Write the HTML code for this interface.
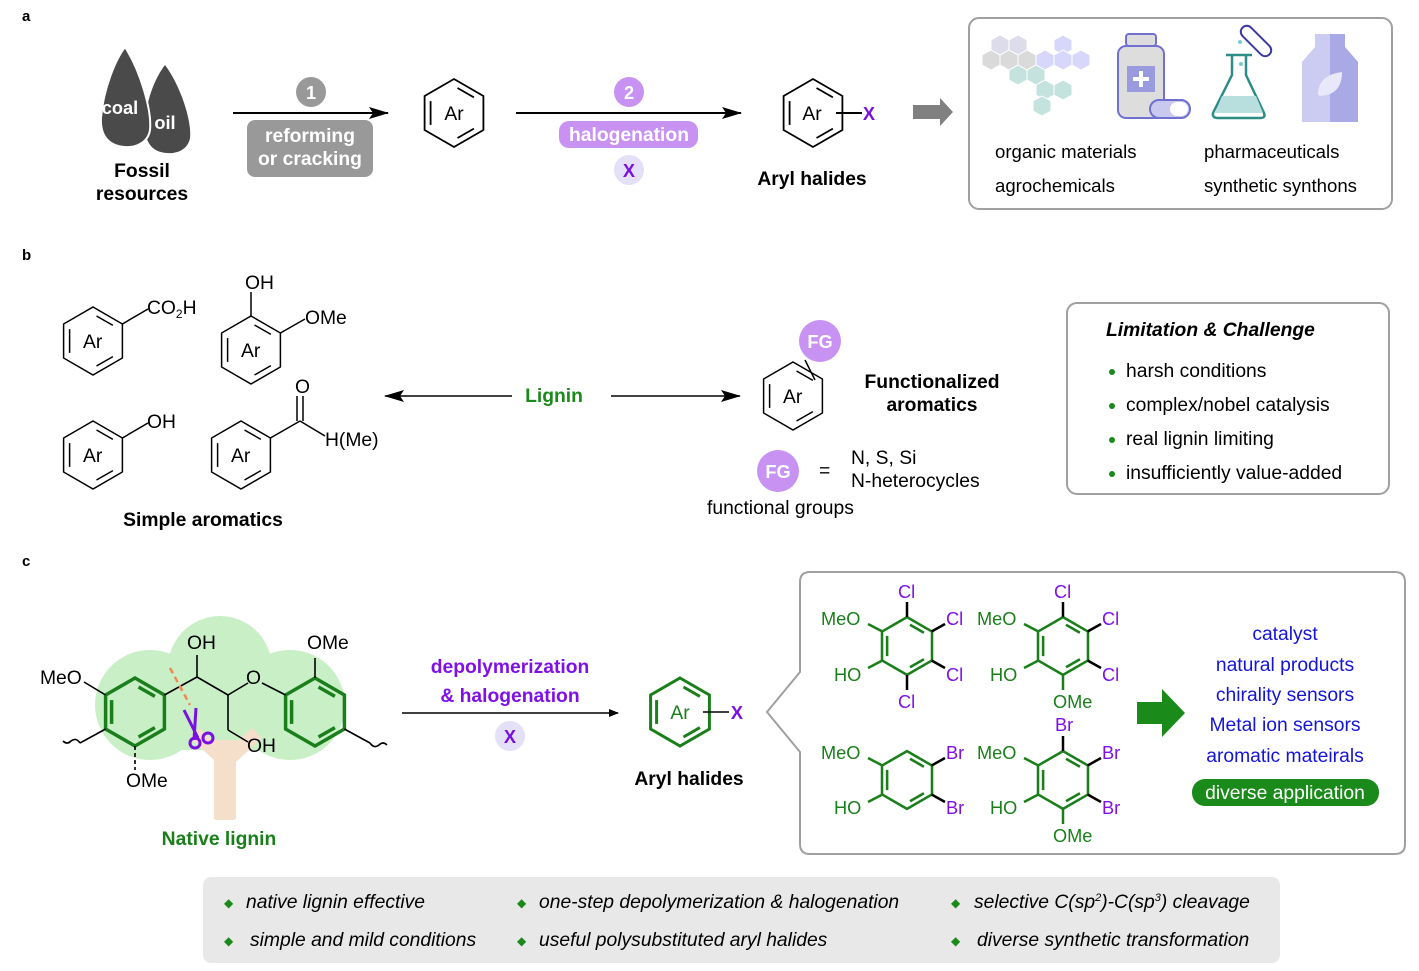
<!DOCTYPE html>
<html><head><meta charset="utf-8"><style>
html,body{margin:0;padding:0;background:#fff;}
svg{display:block;font-family:"Liberation Sans",Arial,sans-serif;}
</style></head><body>
<svg width="1419" height="971" viewBox="0 0 1419 971" xmlns="http://www.w3.org/2000/svg">
<defs>
<g id="ring" fill="none">
<polygon points="0,-34 29.4,-17 29.4,17 0,34 -29.4,17 -29.4,-17"/>
<line x1="-23.4" y1="-11.9" x2="-23.4" y2="11.9"/>
<line x1="3.5" y1="-25" x2="19.9" y2="-15.6"/>
<line x1="3.5" y1="25" x2="19.9" y2="15.6"/>
</g>
<marker id="ah" markerWidth="10" markerHeight="8" refX="9" refY="4" orient="auto" markerUnits="userSpaceOnUse"><path d="M0,0 L10,4 L0,8 Z" fill="#000"/></marker>
<marker id="ahs" markerWidth="20" markerHeight="12" refX="19" refY="6" orient="auto" markerUnits="userSpaceOnUse"><path d="M0,0 L20,6 L0,12 L4,6 Z" fill="#000"/></marker>
</defs>

<g font-weight="bold" font-size="15"><text x="22" y="21">a</text><text x="22" y="260">b</text><text x="22" y="566">c</text></g>

<!-- ===== Panel a ===== -->
<path d="M165,65 C180,85 192,120 190,138 C188,150 176,154 167,153 C150,152 145,140 145,125 C146,100 155,78 165,65Z" fill="#4a4a4a"/>
<path d="M125,47 C140,70 152,110 150,130 C148,143 135,148 125,147 C108,146 100,135 101,118 C103,90 115,60 125,47Z" fill="#4a4a4a" stroke="#fff" stroke-width="2"/>
<text x="120" y="114" fill="#fff" font-size="18.2" font-weight="bold" text-anchor="middle">coal</text>
<text x="165" y="129" fill="#fff" font-size="18.2" font-weight="bold" text-anchor="middle">oil</text>
<text x="142" y="177" font-size="19.3" font-weight="bold" text-anchor="middle">Fossil</text>
<text x="142" y="200" font-size="19.3" font-weight="bold" text-anchor="middle">resources</text>

<line x1="233" y1="113" x2="388" y2="113" stroke="#000" stroke-width="2" marker-end="url(#ahs)"/>
<circle cx="311" cy="92" r="15" fill="#999"/>
<text x="311" y="99" fill="#fff" font-size="18.2" font-weight="bold" text-anchor="middle">1</text>
<rect x="247" y="120" width="126" height="57" rx="8" fill="#999"/>
<text x="310" y="142" fill="#fff" font-size="19.3" font-weight="bold" text-anchor="middle">reforming</text>
<text x="310" y="165" fill="#fff" font-size="19.3" font-weight="bold" text-anchor="middle">or cracking</text>

<use href="#ring" x="454" y="113" stroke="#000" stroke-width="1.8"/>
<text x="454" y="120" font-size="19.3" text-anchor="middle">Ar</text>

<line x1="516" y1="113" x2="741" y2="113" stroke="#000" stroke-width="2" marker-end="url(#ahs)"/>
<circle cx="629" cy="92" r="15" fill="#c792f2"/>
<text x="629" y="99" fill="#fff" font-size="18.2" font-weight="bold" text-anchor="middle">2</text>
<rect x="559" y="121" width="139" height="27" rx="10" fill="#c792f2"/>
<text x="629" y="141" fill="#fff" font-size="19.3" font-weight="bold" text-anchor="middle">halogenation</text>
<circle cx="629" cy="170" r="15" fill="#e3e0f8"/>
<text x="629" y="177" fill="#7a10e0" font-size="18.2" font-weight="bold" text-anchor="middle">X</text>

<use href="#ring" x="813" y="113" stroke="#000" stroke-width="1.8"/>
<text x="812" y="120" font-size="19.3" text-anchor="middle">Ar</text>
<line x1="836" y1="113" x2="862" y2="113" stroke="#000" stroke-width="2"/>
<text x="869" y="120" fill="#7a10e0" font-size="18.2" font-weight="bold" text-anchor="middle">X</text>
<text x="812" y="185" font-size="19.3" font-weight="bold" text-anchor="middle">Aryl halides</text>

<path d="M913,105 L940,105 L940,98 L953,112 L940,126 L940,119 L913,119Z" fill="#808080"/>

<rect x="969" y="18" width="423" height="191" rx="10" fill="#fff" stroke="#a0a0a0" stroke-width="2"/>
<g stroke="#fff" stroke-width="1">
<g fill="#dcdcea"><polygon points="1000,35 1009,40 1009,50 1000,55 991,50 991,40"/><polygon points="1018,35 1027,40 1027,50 1018,55 1009,50 1009,40"/></g>
<g fill="#dadada"><polygon points="991,50 1000,55 1000,65 991,70 982,65 982,55"/><polygon points="1009,50 1018,55 1018,65 1009,70 1000,65 1000,55"/><polygon points="1027,50 1036,55 1036,65 1027,70 1018,65 1018,55"/></g>
<g fill="#d7d7fb"><polygon points="1063,35 1072,40 1072,50 1063,55 1054,50 1054,40"/><polygon points="1045,50 1054,55 1054,65 1045,70 1036,65 1036,55"/><polygon points="1063,50 1072,55 1072,65 1063,70 1054,65 1054,55"/><polygon points="1081,50 1090,55 1090,65 1081,70 1072,65 1072,55"/></g>
<g fill="#c4e3df"><polygon points="1018,65 1027,70 1027,80 1018,85 1009,80 1009,70"/><polygon points="1036,65 1045,70 1045,80 1036,85 1027,80 1027,70"/><polygon points="1045,80 1054,85 1054,95 1045,100 1036,95 1036,85"/><polygon points="1063,80 1072,85 1072,95 1063,100 1054,95 1054,85"/><polygon points="1042,96 1051,101 1051,111 1042,116 1033,111 1033,101"/></g>
</g>
<rect x="1126" y="34" width="30" height="12" rx="3" fill="#ddd" stroke="#7070d0" stroke-width="2"/>
<rect x="1118" y="46" width="46" height="72" rx="8" fill="#ddd" stroke="#7070d0" stroke-width="2"/>
<rect x="1127" y="66" width="28" height="26" fill="#9a9ade"/>
<path d="M1141,71 V87 M1133,79 H1149" stroke="#fff" stroke-width="4"/>
<rect x="1150" y="100" width="40" height="18" rx="9" fill="#c9c9ef" stroke="#7070d0" stroke-width="2"/>
<rect x="1170" y="102" width="18" height="14" rx="7" fill="#fff"/>
<path d="M1232,55 V75 L1213,113 Q1212,118 1218,118 H1260 Q1266,118 1264,113 L1246,75 V55" fill="#fff" stroke="#2c8c86" stroke-width="2.5"/>
<path d="M1222,96 H1256 L1263,113 H1215Z" fill="#b8dede"/>
<line x1="1226" y1="55" x2="1252" y2="55" stroke="#2c8c86" stroke-width="2.5"/>
<rect x="1250" y="22" width="12" height="38" rx="6" transform="rotate(-45 1256 41)" fill="#fff" stroke="#3a3aa0" stroke-width="2"/>
<circle cx="1240" cy="42" r="2" fill="#7cc"/><circle cx="1241" cy="64" r="2" fill="#7cc"/>
<path d="M1315,34 H1345 V47 L1358,62 V122 H1302 V62 L1315,47Z" fill="#ccccf2"/>
<path d="M1330,34 H1345 V47 L1358,62 V122 H1330Z" fill="#a9a9e6"/>
<path d="M1318,95 Q1318,75 1342,72 Q1342,95 1320,96Z" fill="#e8e8fa"/>
<g font-size="18.6"><text x="995" y="158">organic materials</text><text x="995" y="192">agrochemicals</text><text x="1204" y="158">pharmaceuticals</text><text x="1204" y="192">synthetic synthons</text></g>

<!-- ===== Panel b ===== -->
<g stroke="#000" stroke-width="1.5" fill="none">
<use href="#ring" x="93" y="341"/><line x1="122.4" y1="324" x2="148" y2="309"/>
<use href="#ring" x="251" y="350"/><line x1="251" y1="316" x2="251" y2="292"/><line x1="280.4" y1="333" x2="305" y2="319"/>
<use href="#ring" x="93" y="455"/><line x1="122.4" y1="438" x2="148" y2="423"/>
<use href="#ring" x="241" y="455"/><line x1="270.4" y1="438" x2="300" y2="421"/><line x1="297" y1="421" x2="297" y2="396"/><line x1="303" y1="421" x2="303" y2="396"/><line x1="300" y1="421" x2="325" y2="436"/>
<use href="#ring" x="793" y="396"/>
<line x1="805" y1="360" x2="815" y2="380"/>
</g>
<g font-size="19.3"><text x="83" y="348">Ar</text><text x="241" y="357">Ar</text><text x="83" y="462">Ar</text><text x="231" y="462">Ar</text><text x="783" y="403">Ar</text>
<text x="147" y="314">CO<tspan font-size="12" dy="4">2</tspan><tspan dy="-4">H</tspan></text>
<text x="245" y="289">OH</text><text x="305" y="324">OMe</text><text x="147" y="428">OH</text><text x="295" y="393">O</text><text x="325" y="446">H(Me)</text></g>
<text x="203" y="526" font-size="19.3" font-weight="bold" text-anchor="middle">Simple aromatics</text>
<line x1="512" y1="396" x2="385" y2="396" stroke="#000" stroke-width="1.5" marker-end="url(#ahs)"/>
<line x1="611" y1="396" x2="740" y2="396" stroke="#000" stroke-width="1.5" marker-end="url(#ahs)"/>
<text x="554" y="402" font-size="19.3" font-weight="bold" fill="#1a8a1a" text-anchor="middle">Lignin</text>
<circle cx="820" cy="341" r="21" fill="#c792f2"/><text x="820" y="348" fill="#fff" font-size="18.2" font-weight="bold" text-anchor="middle">FG</text>
<text x="932" y="388" font-size="19.3" font-weight="bold" text-anchor="middle">Functionalized</text>
<text x="932" y="411" font-size="19.3" font-weight="bold" text-anchor="middle">aromatics</text>
<circle cx="778" cy="471" r="21" fill="#c792f2"/><text x="778" y="478" fill="#fff" font-size="18.2" font-weight="bold" text-anchor="middle">FG</text>
<g font-size="19.3"><text x="819" y="477">=</text><text x="851" y="464">N, S, Si</text><text x="851" y="487">N-heterocycles</text><text x="707" y="514">functional groups</text></g>

<rect x="1067" y="303" width="322" height="191" rx="10" fill="#fff" stroke="#a0a0a0" stroke-width="2"/>
<text x="1106" y="336" font-size="19.3" font-weight="bold" font-style="italic">Limitation &amp; Challenge</text>
<g fill="#1a8a1a"><circle cx="1112" cy="372" r="3"/><circle cx="1112" cy="406" r="3"/><circle cx="1112" cy="440" r="3"/><circle cx="1112" cy="474" r="3"/></g>
<g font-size="19.3"><text x="1126" y="377">harsh conditions</text><text x="1126" y="411">complex/nobel catalysis</text><text x="1126" y="445">real lignin limiting</text><text x="1126" y="479">insufficiently value-added</text></g>

<!-- ===== Panel c ===== -->
<g fill="#c9efc6"><circle cx="220" cy="668" r="52"/><circle cx="150" cy="705" r="55"/><circle cx="290" cy="705" r="55"/><rect x="150" y="680" width="140" height="70"/></g>
<path d="M214,818 V760 L190,738 L200,728 L214,742 V740 H236 V742 L252,728 L262,738 L236,762 V818 Q236,820 232,820 H218 Q214,820 214,818Z" fill="#f5dfca"/>
<g stroke-width="3.5" stroke="#1a7f1a"><use href="#ring" x="135" y="712"/><use href="#ring" x="315" y="712"/></g>
<g stroke="#000" stroke-width="1.6" fill="none">
<line x1="105.6" y1="695" x2="84" y2="682"/>
<line x1="105.6" y1="729" x2="80" y2="743"/>
<path d="M80,743 q-4,-6 -9,-2 q-4,4 -8,0" />
<line x1="135" y1="746" x2="135" y2="770" stroke-dasharray="4,3"/>
<line x1="164.4" y1="695" x2="197" y2="677"/><line x1="197" y1="677" x2="197" y2="655"/>
<line x1="197" y1="677" x2="228" y2="695"/><line x1="228" y1="695" x2="248" y2="683"/>
<line x1="262" y1="683" x2="285.6" y2="695"/>
<line x1="228" y1="695" x2="228" y2="730"/><line x1="228" y1="730" x2="248" y2="742"/>
<line x1="315" y1="678" x2="315" y2="658"/>
<line x1="344.4" y1="729" x2="370" y2="743"/>
<path d="M370,743 q4,6 9,2 q4,-4 8,0"/>
</g>
<line x1="170" y1="668" x2="190" y2="705" stroke="#f08a50" stroke-width="2.5" stroke-dasharray="6,4"/>
<g stroke="#7a10e0" stroke-width="3" fill="none"><path d="M184,710 L198,738 M196,708 L194,740"/><circle cx="195" cy="743" r="5"/><circle cx="208" cy="738" r="5"/></g>
<g font-size="19.3"><text x="40" y="684">MeO</text><text x="126" y="787">OMe</text><text x="187" y="649">OH</text><text x="246" y="684">O</text><text x="247" y="752">OH</text><text x="307" y="649">OMe</text></g>
<text x="219" y="845" font-size="19.3" font-weight="bold" fill="#1a7f1a" text-anchor="middle">Native lignin</text>

<text x="510" y="673" font-size="19.3" font-weight="bold" fill="#8010e8" text-anchor="middle">depolymerization</text>
<text x="510" y="702" font-size="19.3" font-weight="bold" fill="#8010e8" text-anchor="middle">&amp; halogenation</text>
<line x1="402" y1="713" x2="618" y2="713" stroke="#000" stroke-width="1.5" marker-end="url(#ah)"/>
<circle cx="510" cy="736" r="15" fill="#e3e0f8"/><text x="510" y="743" fill="#7a10e0" font-size="18.2" font-weight="bold" text-anchor="middle">X</text>
<use href="#ring" x="680" y="712" stroke="#1a7f1a" stroke-width="3"/>
<text x="680" y="719" font-size="19.3" fill="#1a7f1a" text-anchor="middle">Ar</text>
<line x1="703" y1="712" x2="729" y2="712" stroke="#000" stroke-width="1.6"/>
<text x="737" y="719" font-size="18.2" font-weight="bold" fill="#7a10e0" text-anchor="middle">X</text>
<text x="689" y="785" font-size="19.3" font-weight="bold" text-anchor="middle">Aryl halides</text>

<path d="M800,672 V582 Q800,572 810,572 H1395 Q1405,572 1405,582 V844 Q1405,854 1395,854 H810 Q800,854 800,844 V752 L767,712 Z" fill="#fff" stroke="#a0a0a0" stroke-width="2"/>

<g stroke="#1a7f1a" stroke-width="3"><use href="#ring" transform="translate(907,646) scale(0.85)"/><use href="#ring" transform="translate(1063,646) scale(0.85)"/><use href="#ring" transform="translate(907,780) scale(0.85)"/><use href="#ring" transform="translate(1063,780) scale(0.85)"/></g>
<g stroke-width="2.5">
<g stroke="#000"><line x1="907" y1="617" x2="907" y2="602"/><line x1="931.6" y1="631.5" x2="945" y2="624"/><line x1="931.6" y1="660.5" x2="945" y2="668"/><line x1="907" y1="675" x2="907" y2="690"/>
<line x1="1063" y1="617" x2="1063" y2="602"/><line x1="1087.6" y1="631.5" x2="1101" y2="624"/><line x1="1087.6" y1="660.5" x2="1101" y2="668"/>
<line x1="931.6" y1="765.5" x2="945" y2="758"/><line x1="931.6" y1="794.5" x2="945" y2="802"/>
<line x1="1063" y1="751" x2="1063" y2="736"/><line x1="1087.6" y1="765.5" x2="1101" y2="758"/><line x1="1087.6" y1="794.5" x2="1101" y2="802"/></g>
<g stroke="#1a7f1a"><line x1="882.4" y1="631.5" x2="868" y2="624"/><line x1="882.4" y1="660.5" x2="868" y2="668"/>
<line x1="1038.4" y1="631.5" x2="1024" y2="624"/><line x1="1038.4" y1="660.5" x2="1024" y2="668"/><line x1="1063" y1="675" x2="1063" y2="690"/>
<line x1="882.4" y1="765.5" x2="868" y2="758"/><line x1="882.4" y1="794.5" x2="868" y2="802"/>
<line x1="1038.4" y1="765.5" x2="1024" y2="758"/><line x1="1038.4" y1="794.5" x2="1024" y2="802"/><line x1="1063" y1="809" x2="1063" y2="824"/></g>
</g>
<g font-size="18.2" fill="#8010e8"><text x="898" y="598">Cl</text><text x="946" y="625">Cl</text><text x="946" y="681">Cl</text><text x="898" y="708">Cl</text>
<text x="1054" y="598">Cl</text><text x="1102" y="625">Cl</text><text x="1102" y="681">Cl</text>
<text x="946" y="759">Br</text><text x="946" y="814">Br</text>
<text x="1055" y="731">Br</text><text x="1102" y="759">Br</text><text x="1102" y="814">Br</text></g>
<g font-size="18.2" fill="#1a7f1a"><text x="821" y="625">MeO</text><text x="834" y="681">HO</text><text x="977" y="625">MeO</text><text x="990" y="681">HO</text><text x="1053" y="708">OMe</text>
<text x="821" y="759">MeO</text><text x="834" y="814">HO</text><text x="977" y="759">MeO</text><text x="990" y="814">HO</text><text x="1053" y="842">OMe</text></g>

<path d="M1137,702 H1162 V689 L1185,713 L1162,737 V724 H1137Z" fill="#1a8a1a"/>
<g font-size="19.3" fill="#1414d8" text-anchor="middle"><text x="1285" y="640">catalyst</text><text x="1285" y="671">natural products</text><text x="1285" y="701">chirality sensors</text><text x="1285" y="731">Metal ion sensors</text><text x="1285" y="762">aromatic mateirals</text></g>
<rect x="1192" y="779" width="187" height="27" rx="13" fill="#1a8a1a"/>
<text x="1285" y="799" font-size="19.3" fill="#fff" text-anchor="middle">diverse application</text>

<rect x="203" y="877" width="1077" height="86" rx="8" fill="#e8e8e8"/>
<g fill="#1a8a1a" font-size="12"><text x="224" y="907">◆</text><text x="224" y="945">◆</text><text x="517" y="907">◆</text><text x="517" y="945">◆</text><text x="951" y="907">◆</text><text x="951" y="945">◆</text></g>
<g font-size="19.3" font-style="italic"><text x="246" y="908">native lignin effective</text><text x="250" y="946">simple and mild conditions</text>
<text x="539" y="908">one-step depolymerization &amp; halogenation</text><text x="539" y="946">useful polysubstituted aryl halides</text>
<text x="974" y="908">selective C(sp<tspan font-size="11" dy="-7">2</tspan><tspan dy="7">)-C(sp</tspan><tspan font-size="11" dy="-7">3</tspan><tspan dy="7">) cleavage</tspan></text><text x="977" y="946">diverse synthetic transformation</text></g>
</svg>
</body></html>
